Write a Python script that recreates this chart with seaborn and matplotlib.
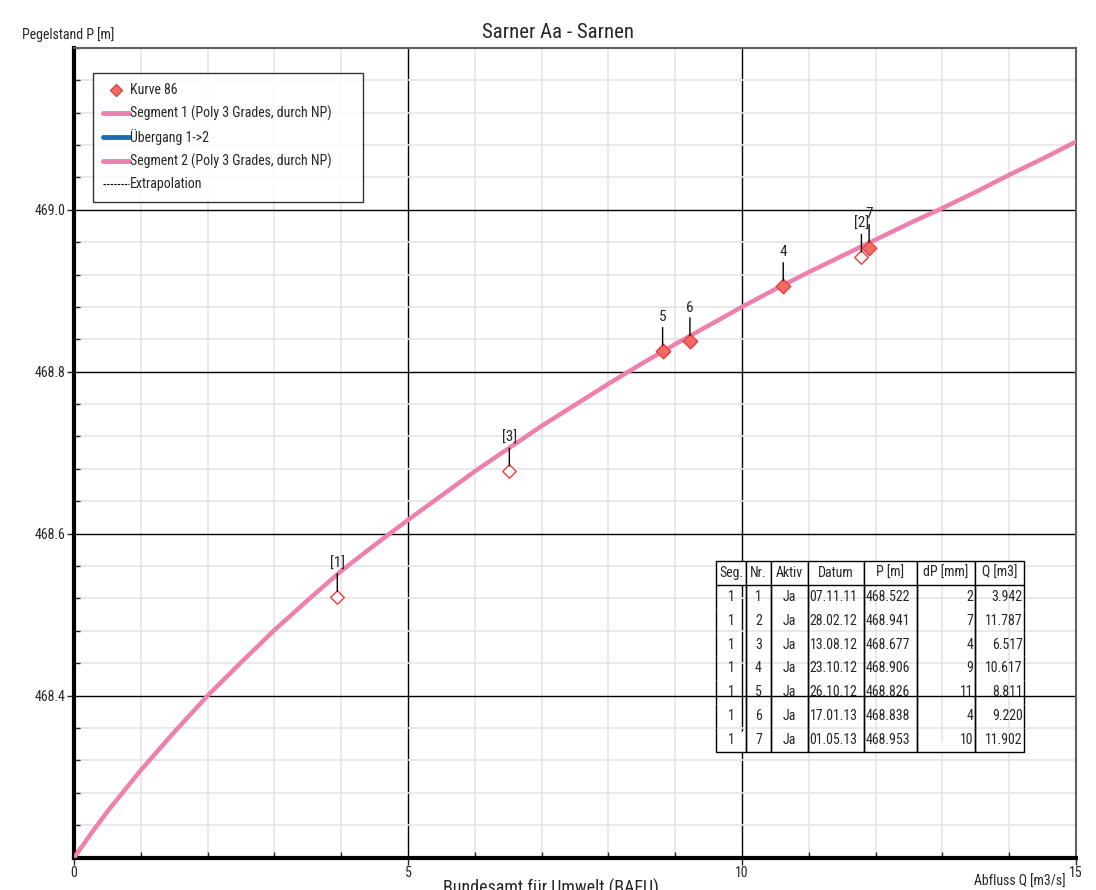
import numpy as np
import pandas as pd
import seaborn as sns
import matplotlib.pyplot as plt
from matplotlib.lines import Line2D
from matplotlib.ticker import MultipleLocator
import logging

logging.getLogger("matplotlib.font_manager").setLevel(logging.ERROR)

# --- curve (Segment 1) ---
curve_q = [0.0, 0.25, 0.5, 1.0, 1.5, 2.0, 2.5, 3.0, 3.5, 4.0, 4.5, 5.0, 5.5,
           6.0, 6.5, 7.0, 7.5, 8.0, 8.5, 9.0, 9.5, 10.0, 10.5, 11.0, 11.5,
           12.0, 12.5, 13.0, 13.5, 14.0, 14.5, 15.0]
curve_p = [468.200, 468.229, 468.257, 468.308, 468.355, 468.400, 468.441,
           468.481, 468.518, 468.554, 468.586, 468.617, 468.647, 468.677,
           468.705, 468.733, 468.759, 468.785, 468.810, 468.834, 468.857,
           468.880, 468.902, 468.923, 468.943, 468.963, 468.983, 469.002,
           469.022, 469.043, 469.063, 469.084]

# --- measurements (table) ---
seg = [1, 1, 1, 1, 1, 1, 1]
nr = [1, 2, 3, 4, 5, 6, 7]
aktiv = ["Ja", "Ja", "Ja", "Ja", "Ja", "Ja", "Ja"]
datum = ["07.11.11", "28.02.12", "13.08.12", "23.10.12", "26.10.12", "17.01.13", "01.05.13"]
pegel = [468.522, 468.941, 468.677, 468.906, 468.826, 468.838, 468.953]
dp_mm = [2, 7, 4, 9, 11, 4, 10]
abfluss = [3.942, 11.787, 6.517, 10.617, 8.811, 9.220, 11.902]
excluded = [1, 2, 3]   # shown as [n], hollow marker

PINK = "#ee80ad"
RED = "#e8403c"

sns.set_style("white")
plt.rcParams['font.family'] = ['Liberation Sans Narrow', 'Roboto Condensed',
                               'Liberation Sans', 'DejaVu Sans']

fig = plt.figure(figsize=(10.96, 8.9), dpi=100)
ax = fig.add_axes([0.0675, 0.0363, 0.9143, 0.9101])

# grid
ax.set_xlim(0, 15)
ax.set_ylim(468.2, 469.2)
ax.set_xticks([0, 5, 10, 15])
ax.xaxis.set_minor_locator(MultipleLocator(1))
ax.set_yticks([468.4, 468.6, 468.8, 469.0])
ax.yaxis.set_minor_locator(MultipleLocator(0.04))
ax.grid(which="minor", color="#e5e5e5", lw=1.2, zorder=0)
ax.grid(which="major", color="black", lw=1.0, zorder=1)
ax.set_axisbelow(True)

curve = pd.DataFrame({"Q": curve_q, "P": curve_p})
sns.lineplot(data=curve, x="Q", y="P", ax=ax, color=PINK, lw=3.2, zorder=3,
             legend=False)

meas = pd.DataFrame({"Nr": nr, "Q": abfluss, "P": pegel})
meas["excl"] = meas["Nr"].isin(excluded)
sns.scatterplot(data=meas[~meas["excl"]], x="Q", y="P", ax=ax, marker="D", s=55,
                color="#f06a66", edgecolor=RED, linewidth=1.0, zorder=5)
sns.scatterplot(data=meas[meas["excl"]], x="Q", y="P", ax=ax, marker="D", s=48,
                color="white", edgecolor=RED, linewidth=1.0, zorder=5)

for _, r in meas.iterrows():
    lab = f"[{r['Nr']}]" if r["excl"] else str(r["Nr"])
    ax.annotate(lab, (r["Q"], r["P"]), xytext=(0, 19), textcoords="offset points",
                ha="center", va="bottom", fontsize=11,
                arrowprops=dict(arrowstyle="-", color="black", lw=1.0,
                                shrinkA=0, shrinkB=4), zorder=6)

# axes styling
for s in ["left", "bottom"]:
    ax.spines[s].set_color("black")
    ax.spines[s].set_linewidth(3)
for s in ["top", "right"]:
    ax.spines[s].set_color("#606060")
    ax.spines[s].set_linewidth(1.5)
ax.tick_params(which="major", direction="out", length=5, width=1, labelsize=10,
               left=True, bottom=True, pad=1)
ax.tick_params(which="minor", direction="in", length=4, width=1, left=True,
               bottom=True)
ax.set_yticklabels(["468.4", "468.6", "468.8", "469.0"])
ax.set_xticklabels(["0", "5", "10", "15"])
ax.set_xlabel("")
ax.set_ylabel("")

fig.text(0.509, 0.964, "Sarner Aa - Sarnen", ha="center", va="center", fontsize=15)
fig.text(0.02, 0.961, "Pegelstand P [m]", ha="left", va="center", fontsize=10)
fig.text(0.972, 0.009, "Abfluss Q [m3/s]", ha="right", va="center", fontsize=10)
fig.text(0.503, 0.012, "Bundesamt für Umwelt (BAFU)", ha="center", va="top",
         fontsize=13)

# legend
handles = [
    Line2D([], [], marker="D", ls="none", markerfacecolor="#f06a66",
           markeredgecolor=RED, markersize=6.5),
    Line2D([], [], color=PINK, lw=3.5),
    Line2D([], [], color="#1a6db3", lw=3.5),
    Line2D([], [], color=PINK, lw=3.5),
    Line2D([], [], color="black", lw=0.8, ls=(0, (2.2, 1))),
]
labels = ["Kurve 86", "Segment 1 (Poly 3 Grades, durch NP)", "Übergang 1->2",
          "Segment 2 (Poly 3 Grades, durch NP)", "Extrapolation"]
leg = ax.legend(handles, labels, loc="upper left",
                bbox_to_anchor=(0.0185, 0.5, 0.2695, 0.4688), mode="expand",
                fontsize=10, frameon=True, fancybox=False, handlelength=1.9,
                handletextpad=0.05, labelspacing=0.6, borderpad=0.75,
                borderaxespad=0)
leg.get_frame().set_edgecolor("black")
leg.get_frame().set_linewidth(1.0)
leg.set_zorder(10)

# table
col_labels = ["Seg.", "Nr.", "Aktiv", "Datum", "P [m]", "dP [mm]", "Q [m3]"]
rows = [[str(seg[i]), str(nr[i]), aktiv[i], datum[i], f"{pegel[i]:.3f}",
         str(dp_mm[i]), f"{abfluss[i]:.3f}"] for i in range(len(nr))]
col_w = [30, 25, 37, 56, 53, 58, 49]
aligns = ["center", "center", "center", "left", "left", "right", "right"]
tab = ax.table(cellText=rows, colLabels=col_labels, bbox=[0.6407, 0.1305, 0.3074, 0.2358],
               zorder=8)
tab.auto_set_font_size(False)
tab.set_fontsize(10)
nrows = len(rows)
for (i, j), cell in tab.get_celld().items():
    cell.set_width(col_w[j] / sum(col_w) * 0.3074)
    cell.set_linewidth(1.0)
    cell.set_edgecolor("black")
    cell.PAD = 0.03
    if i == 0:
        cell.visible_edges = "closed"
        cell._loc = "center"
        cell.get_text().set_ha("center")
    else:
        cell.visible_edges = "LRB" if i == nrows else "LR"
        cell._loc = aligns[j]
        cell.get_text().set_ha(aligns[j])

fig.savefig("out.png", dpi=100)
